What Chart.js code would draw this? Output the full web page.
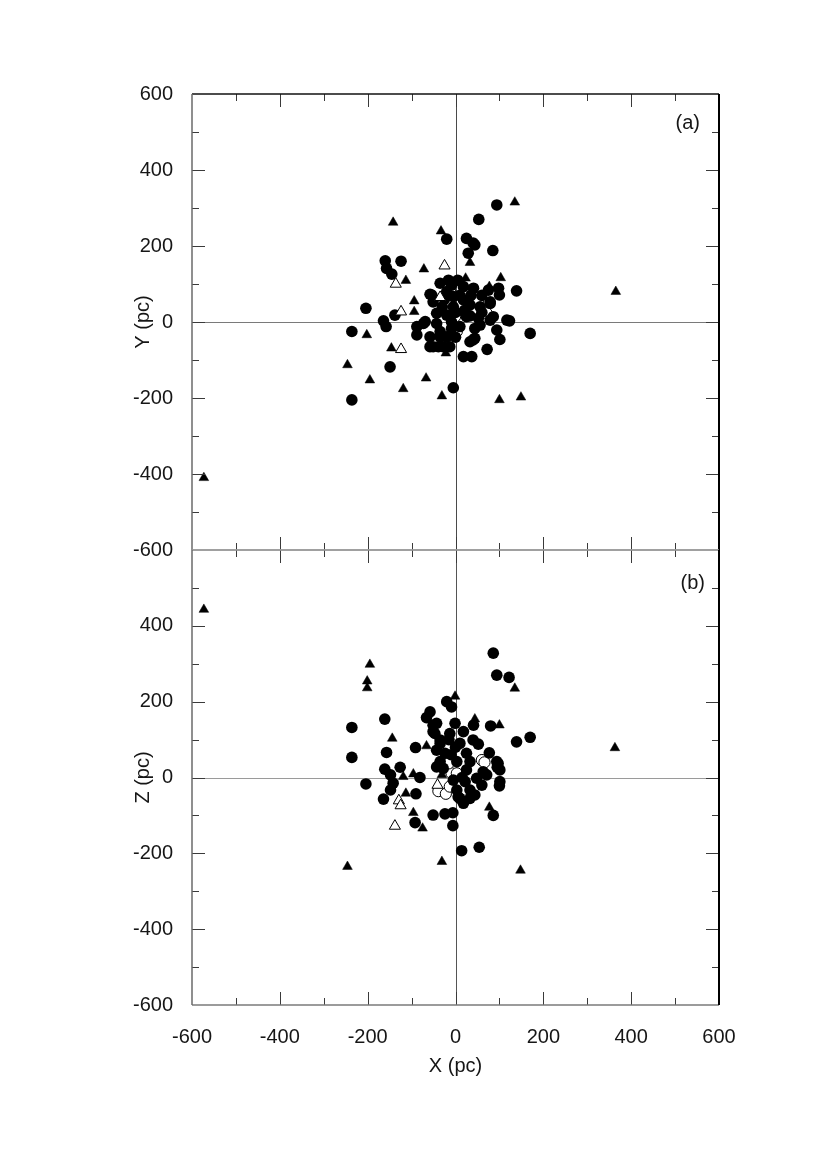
<!DOCTYPE html>
<html><head><meta charset="utf-8">
<script src="https://cdn.jsdelivr.net/npm/chart.js@4.4.1/dist/chart.umd.min.js"></script>
<style>
html,body{margin:0;padding:0;background:#fff;}
#wrap{position:relative;width:827px;height:1170px;overflow:hidden;background:#fff;}
canvas{position:absolute;left:0;}
#cA{top:0;} #cB{top:500px;}
</style></head><body>
<div id="wrap"><canvas id="cA" width="827" height="600"></canvas><canvas id="cB" width="827" height="670"></canvas></div>
<script>
// ---- tick labels ----
const xTickLabels = [-600,-400,-200,0,200,400,600];
const yTickLabelsA = [-600,-400,-200,0,200,400,600];
const yTickLabelsB = [-600,-400,-200,0,200,400];
const tickMarkValues = [-500,-400,-300,-200,-100,0,100,200,300,400,500];
const panelLabels = ['(a)','(b)'];

// ---- panel (a): X vs Y ----
const aCircX = [-160,-124,-157,-145,-204,-138,-164,-158,-236,-149,-236,-5,-20,-58,-51,-88,-88,-58,-39,-35,-43,-73,-35,-16,25,29,53,40,18,37,40,94,44,85,139,98,100,79,123,170,101,44,72,86,56,33,-9,18,41,-54,-5,18,79,75,-5,33,56,-20,-69,-43,25,52,79,117,-35,-9,10,44,94,-58,-20,-51,-28,-13,33,-9,0,10,-25,-20,60,5,20,-30,0,60,35];
const aCircY = [161,160,141,126,36,18,3,-12,-25,-118,-205,-173,218,73,53,-12,-34,-65,-65,-39,23,-4,102,110,220,181,270,208,-91,-91,-47,308,203,188,82,89,71,49,3,-30,-46,-43,-72,14,-8,16,97,93,89,71,67,58,53,84,40,45,40,18,1,-4,14,10,5,5,-25,-17,-12,-17,-21,-39,-39,-65,-65,-65,-52,0,25,70,60,80,70,110,30,40,-40,25,70];
const aTriX = [-142,-33,-72,-113,23,33,-94,-94,-202,-146,-246,-195,-119,-67,-31,-22,135,103,77,365,100,149,-573];
const aTriY = [262,239,139,109,115,156,55,27,-34,-69,-113,-153,-176,-148,-195,-82,315,116,93,80,-205,-198,-410];
const aOpenTriX = [-25,-136,-124,-124,-35];
const aOpenTriY = [148,100,27,-72,65];
const aOpenCircX = [-12,-1,3,52,71];
const aOpenCircY = [80,14,-25,58,23];

// ---- panel (b): X vs Z ----
const bCircX = [-236,-161,-236,-157,-91,-126,-161,-148,-204,-142,-148,-164,-90,-81,-92,-51,-24,-6,-6,14,-20,-9,-58,-66,-43,-1,-51,-35,-43,-43,6,18,86,94,122,80,139,170,52,77,97,95,100,71,44,86,54,40,-47,-13,18,41,-35,10,-24,25,-35,3,33,94,-28,25,63,101,-5,22,48,101,3,33,10,33,-51,-10,0,15,-15,60];
const bCircY = [132,154,53,66,79,27,22,7,-17,-15,-33,-57,-43,0,-119,-99,-96,-93,-127,-193,200,186,173,158,143,143,121,99,72,28,-51,-68,328,270,264,136,94,106,88,65,37,27,-22,7,-46,-100,-184,99,116,116,121,138,90,90,64,64,42,42,42,42,24,20,15,20,-7,-11,-2,-11,-33,-33,-55,-55,138,60,80,0,100,-20];
const bTriX = [-195,-201,-201,-1,44,-144,-66,-119,-96,-113,-96,-75,-246,-31,-31,135,100,363,77,148,-573];
const bTriY = [298,254,236,214,154,103,83,2,9,-42,-93,-134,-235,-222,7,235,138,78,-79,-245,443];
const bOpenTriX = [-129,-125,-138,-41];
const bOpenTriY = [-61,-74,-128,-20];
const bOpenCircX = [-9,3,-39,-22,-13,-16,60,66];
const bOpenCircY = [11,11,-36,-43,-24,37,46,40];

const FONT = '"Liberation Sans", Arial, sans-serif';
const TEXT = '#161616';

function pts(xs, ys){ return xs.map((v,i)=>({x:v, y:ys[i]})); }

// dataset 0 is drawn on top, last dataset at the bottom
function makeDatasets(cx,cy,tx,ty,otx,oty,ocx,ocy){
  return [
    {label:'open triangles', data:pts(otx,oty), pointStyle:'triangle', pointRadius:6.4, backgroundColor:'#ffffff', borderColor:'#000', borderWidth:1},
    {label:'triangles', data:pts(tx,ty), pointStyle:'triangle', pointRadius:5.6, backgroundColor:'#000', borderColor:'#000', borderWidth:0.5},
    {label:'circles', data:pts(cx,cy), pointStyle:'circle', pointRadius:5.8, backgroundColor:'#000', borderColor:'#000', borderWidth:0},
    {label:'open circles', data:pts(ocx,ocy), pointStyle:'circle', pointRadius:5.6, backgroundColor:'#ffffff', borderColor:'#000', borderWidth:1}
  ];
}

const framePlugin = {
  id:'frame',
  beforeDatasetsDraw(chart, args, o){
    const {ctx, chartArea:a, scales:{x,y}} = chart;
    ctx.save();
    ctx.lineWidth = 1;
    const x0 = Math.round(x.getPixelForValue(0)) + 0.5;
    ctx.strokeStyle = o.vZero;
    ctx.beginPath(); ctx.moveTo(x0, a.top); ctx.lineTo(x0, a.bottom); ctx.stroke();
    const y0 = Math.round(y.getPixelForValue(0)) + 0.5;
    ctx.strokeStyle = o.hZero;
    ctx.beginPath(); ctx.moveTo(a.left, y0); ctx.lineTo(a.right, y0); ctx.stroke();
    ctx.restore();
  },
  afterDatasetsDraw(chart, args, o){
    const {ctx, chartArea:a, scales:{x,y}} = chart;
    ctx.save();
    ctx.strokeStyle = '#3a3a3a';
    ctx.lineWidth = 1;
    tickMarkValues.forEach(v=>{
      const len = (v % 200 === 0) ? 13 : 7;
      const px = Math.round(x.getPixelForValue(v)) + 0.5;
      ctx.beginPath();
      ctx.moveTo(px, a.top); ctx.lineTo(px, a.top + len);
      ctx.moveTo(px, a.bottom); ctx.lineTo(px, a.bottom - len);
      ctx.stroke();
      const py = Math.round(y.getPixelForValue(v)) + 0.5;
      ctx.beginPath();
      ctx.moveTo(a.left, py); ctx.lineTo(a.left + len, py);
      ctx.moveTo(a.right, py); ctx.lineTo(a.right - len, py);
      ctx.stroke();
    });
    const L = Math.round(a.left), R = Math.round(a.right), T = Math.round(a.top), B = Math.round(a.bottom);
    ctx.lineWidth = 1.5;
    ctx.strokeStyle = o.topColor; ctx.beginPath(); ctx.moveTo(L, T); ctx.lineTo(R, T); ctx.stroke();
    ctx.strokeStyle = o.bottomColor; ctx.beginPath(); ctx.moveTo(L, B); ctx.lineTo(R, B); ctx.stroke();
    ctx.strokeStyle = '#6a6a6a'; ctx.beginPath(); ctx.moveTo(L, T); ctx.lineTo(L, B); ctx.stroke();
    ctx.lineWidth = 2;
    ctx.strokeStyle = '#000'; ctx.beginPath(); ctx.moveTo(R, T); ctx.lineTo(R, B); ctx.stroke();
    ctx.fillStyle = TEXT;
    ctx.font = '20px ' + FONT;
    ctx.textAlign = 'right';
    ctx.textBaseline = 'middle';
    ctx.fillText(o.label, a.right - o.dx, a.top + o.dy);
    ctx.restore();
  }
};

function yAxis(title, labels){
  return {
    type:'linear', min:-600, max:600, position:'left',
    afterBuildTicks(s){ s.ticks = labels.map(v=>({value:v})); },
    afterFit(s){ s.width = 61; },
    grid:{display:false, drawTicks:false},
    border:{display:false},
    ticks:{padding:19, autoSkip:false, color:TEXT, font:{family:FONT, size:20}},
    title:{display:true, text:title, color:TEXT, font:{family:FONT, size:20}, padding:{top:0, bottom:0}}
  };
}

const common = { responsive:false, animation:false, devicePixelRatio:1, events:[] };

new Chart(document.getElementById('cA'), {
  type:'scatter',
  data:{datasets:makeDatasets(aCircX,aCircY,aTriX,aTriY,aOpenTriX,aOpenTriY,aOpenCircX,aOpenCircY)},
  options:Object.assign({}, common, {
    layout:{autoPadding:false, padding:{left:131, right:108, top:94, bottom:50}},
    scales:{
      x:{type:'linear', min:-600, max:600, display:false},
      y:yAxis('Y (pc)', yTickLabelsA)
    },
    plugins:{legend:{display:false}, tooltip:{enabled:false},
      frame:{label:panelLabels[0], dx:19, dy:29, vZero:'#4a4a4a', hZero:'#7a7a7a', topColor:'#111', bottomColor:'#9a9a9a'}}
  }),
  plugins:[framePlugin]
});

new Chart(document.getElementById('cB'), {
  type:'scatter',
  data:{datasets:makeDatasets(bCircX,bCircY,bTriX,bTriY,bOpenTriX,bOpenTriY,bOpenCircX,bOpenCircY)},
  options:Object.assign({}, common, {
    layout:{autoPadding:false, padding:{left:131, right:108, top:50, bottom:75}},
    scales:{
      x:{type:'linear', min:-600, max:600, position:'bottom',
        afterBuildTicks(s){ s.ticks = xTickLabels.map(v=>({value:v})); },
        afterFit(s){ s.height = 90; },
        grid:{display:false, drawTicks:false},
        border:{display:false},
        ticks:{padding:20, autoSkip:false, maxRotation:0, color:TEXT, font:{family:FONT, size:20}},
        title:{display:true, text:'X (pc)', color:TEXT, font:{family:FONT, size:20}, padding:{top:0, bottom:17}}
      },
      y:yAxis('Z (pc)', yTickLabelsB)
    },
    plugins:{legend:{display:false}, tooltip:{enabled:false},
      frame:{label:panelLabels[1], dx:14, dy:33, vZero:'#555', hZero:'#9a9a9a', topColor:'#9a9a9a', bottomColor:'#7a7a7a'}}
  }),
  plugins:[framePlugin]
});
</script>
</body></html>
